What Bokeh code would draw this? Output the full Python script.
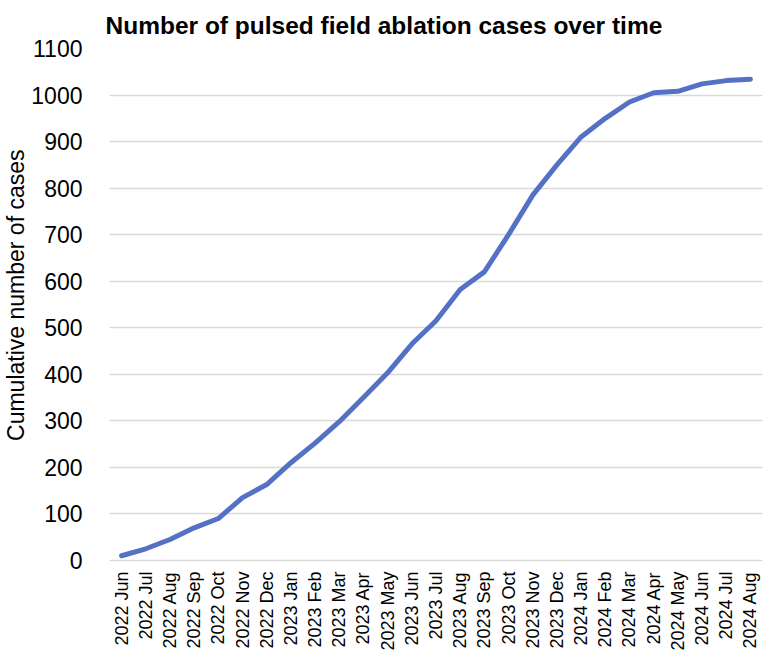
import math
from bokeh.plotting import figure
from bokeh.models import Range1d, FactorRange, LabelSet, ColumnDataSource, Title
from bokeh.core.properties import value
from bokeh.embed import file_html
from bokeh.resources import INLINE

months = ["2022 Jun", "2022 Jul", "2022 Aug", "2022 Sep", "2022 Oct", "2022 Nov", "2022 Dec",
          "2023 Jan", "2023 Feb", "2023 Mar", "2023 Apr", "2023 May", "2023 Jun", "2023 Jul",
          "2023 Aug", "2023 Sep", "2023 Oct", "2023 Nov", "2023 Dec",
          "2024 Jan", "2024 Feb", "2024 Mar", "2024 Apr", "2024 May", "2024 Jun", "2024 Jul", "2024 Aug"]
cases = [10, 25, 45, 70, 90, 135, 163, 210, 252, 298, 350, 403, 465, 515, 582, 620,
         700, 785, 850, 910, 950, 985, 1005, 1008, 1024, 1031, 1034]
y_ticks = list(range(0, 1101, 100))

FONT = "Liberation Sans"

# the frame extends below zero so that the month labels (drawn inside it) have room
p = figure(width=764, height=653, output_backend="svg", toolbar_location=None,
           x_range=FactorRange(*months), y_range=Range1d(-200, 1100),
           title="Number of pulsed field ablation cases over time",
           min_border_left=98, min_border_right=2, min_border_top=41, min_border_bottom=0)

p.title.text_font = FONT
p.title.text_font_style = "bold"
p.title.text_font_size = "24.5px"
p.title.align = "left"
p.title.offset = -4
p.title.standoff = 19
p.title.text_color = "black"

p.line(months, cases, line_color="#5471c5", line_width=5, line_join="round", line_cap="round")

p.outline_line_color = None
p.xgrid.grid_line_color = None
p.ygrid.grid_line_color = "#d9d9d9"
p.ygrid.grid_line_width = 1.5
p.yaxis.ticker = y_ticks
p.xaxis.visible = False

p.yaxis.axis_line_color = None
p.yaxis.major_tick_line_color = None
p.yaxis.minor_tick_line_color = None
p.yaxis.major_label_text_font = FONT
p.yaxis.major_label_text_font_size = "23px"
p.yaxis.major_label_text_color = "black"
p.yaxis.major_label_standoff = 21

ylab = Title(text="Cumulative number of cases", align="right", offset=101,
             text_font=FONT, text_font_size="23px", text_font_style="normal",
             text_color="black", standoff=0)
p.add_layout(ylab, "left")

src = ColumnDataSource(dict(x=months, y=[0] * len(months), text=months))
labels = LabelSet(x="x", y="y", text="text", source=src, angle=math.pi / 2,
                  text_align="right", text_baseline="middle", y_offset=-11,
                  text_font=value(FONT), text_font_size=value("18px"), text_color="black")
p.add_layout(labels)

p.background_fill_color = "white"
p.border_fill_color = "white"

open("out.html", "w").write(file_html(p, INLINE))
